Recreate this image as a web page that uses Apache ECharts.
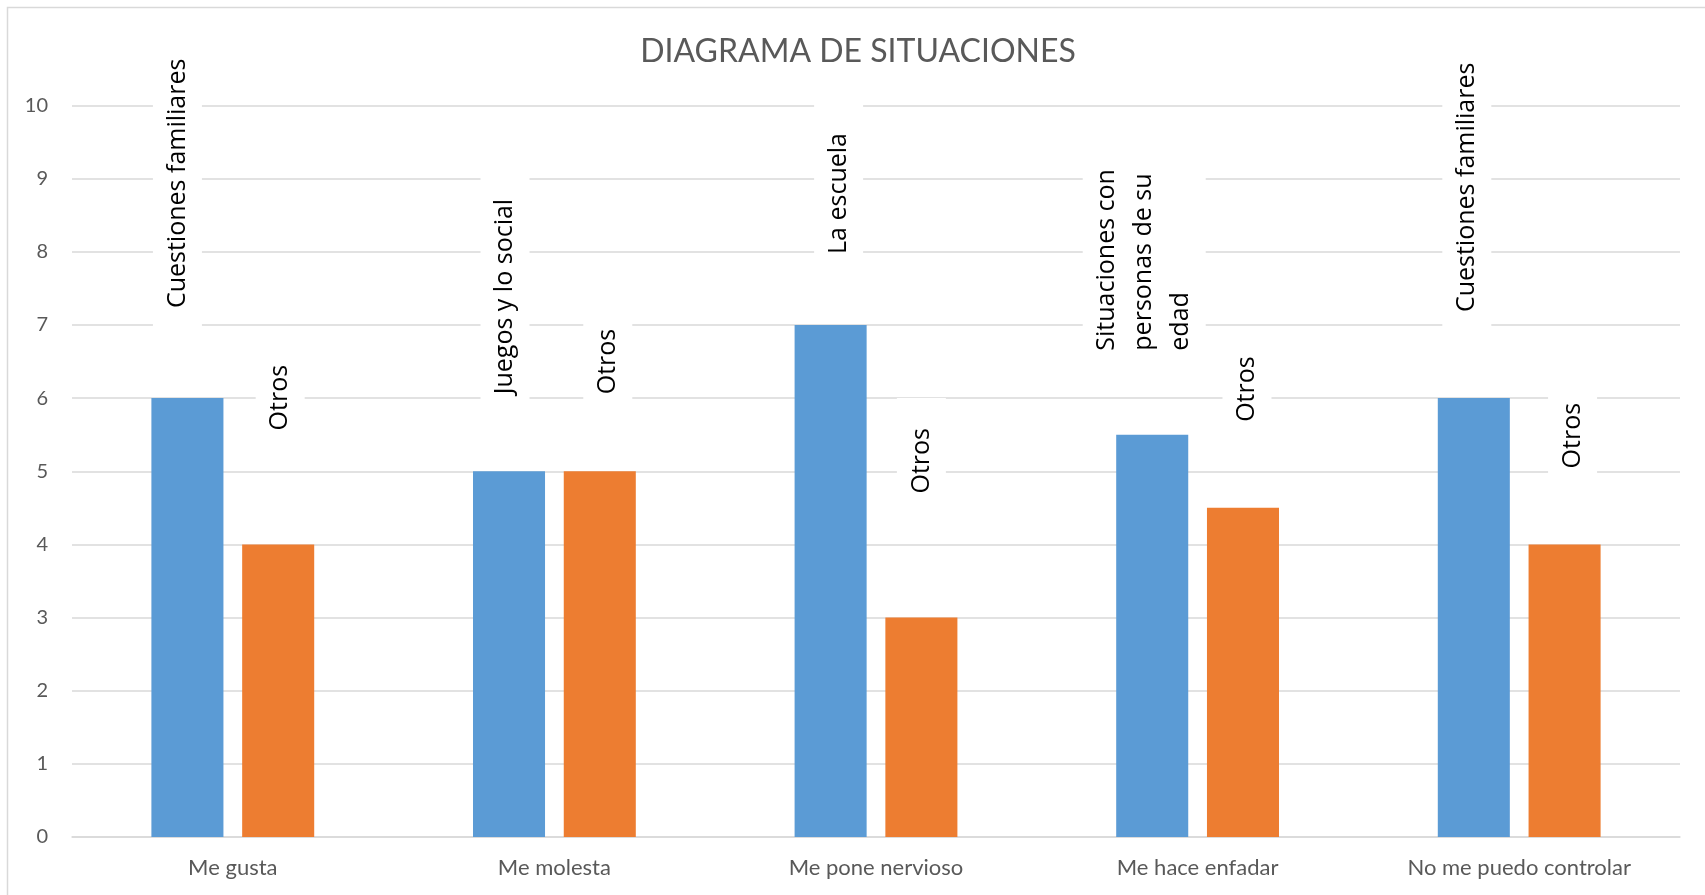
<!DOCTYPE html>
<html lang="es">
<head>
    <meta charset="UTF-8">
    <title>Diagrama de situaciones</title>
    <script src="https://cdn.jsdelivr.net/npm/echarts@6/dist/echarts.min.js"></script>
    <style>
        html, body { margin: 0; padding: 0; background: #fff; }
        #chart { width: 1705px; height: 895px; }
    </style>
</head>
<body>
<div id="chart"></div>
<script>
    // datos del diagrama
    var categorias = ['Me gusta', 'Me molesta', 'Me pone nervioso', 'Me hace enfadar', 'No me puedo controlar'];
    var valoresPrincipal = [6, 5, 7, 5.5, 6];
    var valoresOtros = [4, 5, 3, 4.5, 4];
    var etiquetasPrincipal = ['Cuestiones familiares', 'Juegos y lo social', 'La escuela', 'Situaciones con\npersonas de su\nedad', 'Cuestiones familiares'];
    var etiquetasOtros = ['Otros', 'Otros', 'Otros', 'Otros', 'Otros'];
    var ticksY = [0, 1, 2, 3, 4, 5, 6, 7, 8, 9, 10];

    // donde quedaron las etiquetas en el original (px): separacion sobre la barra y corrimiento lateral
    var separacionPrincipal = [60, 47, 41, 54, 56];
    var separacionOtros = [84, 47, 94, 56, 46];
    var corrimientoPrincipal = [-10, -4, 8, -8, -7];
    var corrimientoOtros = [2, 8, 0, 4, 8];

    function etiqueta(texto, separacion, corrimiento) {
        return {
            show: true,
            position: 'top',
            distance: separacion,
            offset: [0, corrimiento],   // rotada 90: el eje y local queda horizontal
            rotate: 90,
            align: 'left',
            verticalAlign: 'middle',
            formatter: texto,
            color: '#000',
            fontFamily: 'Open Sans',
            fontSize: 25,
            lineHeight: 37,
            backgroundColor: '#fff',
            padding: [6, 30]
        };
    }

    function datosSerie(valores, textos, separaciones, corrimientos) {
        return valores.map(function (v, i) {
            return { value: v, label: etiqueta(textos[i], separaciones[i], corrimientos[i]) };
        });
    }

    var chart = echarts.init(document.getElementById('chart'));
    var option = {
        animation: false,
        backgroundColor: '#fff',
        title: {
            text: 'DIAGRAMA DE SITUACIONES',
            left: 858,
            textAlign: 'center',
            top: 36,
            padding: 0,
            textStyle: {
                color: '#595959',
                fontFamily: 'Lato',
                fontSize: 32,
                fontWeight: 'normal'
            }
        },
        graphic: [{
            type: 'rect',
            shape: { x: 7.5, y: 7.5, width: 1740, height: 920 },
            style: { fill: 'none', stroke: '#d9d9d9', lineWidth: 1.5 },
            silent: true,
            z: -1
        }],
        grid: { left: 72, right: 25, top: 105.5, bottom: 58 },
        xAxis: {
            type: 'category',
            data: categorias,
            axisTick: { show: false },
            axisLine: { lineStyle: { color: '#d9d9d9', width: 1.5 } },
            axisLabel: {
                color: '#595959',
                fontFamily: 'Lato',
                fontSize: 22,
                margin: 20
            }
        },
        yAxis: {
            type: 'value',
            min: ticksY[0],
            max: ticksY[ticksY.length - 1],
            interval: 1,
            axisLine: { show: false },
            axisTick: { show: false },
            splitLine: { lineStyle: { color: '#d9d9d9', width: 1.5 } },
            axisLabel: {
                color: '#595959',
                fontFamily: 'Lato',
                fontSize: 20,
                margin: 24
            }
        },
        series: [
            {
                name: 'Situación',
                type: 'bar',
                barWidth: '22.4%',
                barGap: '26%',
                itemStyle: { color: '#5b9bd5' },
                data: datosSerie(valoresPrincipal, etiquetasPrincipal, separacionPrincipal, corrimientoPrincipal)
            },
            {
                name: 'Otros',
                type: 'bar',
                barWidth: '22.4%',
                itemStyle: { color: '#ed7d31' },
                data: datosSerie(valoresOtros, etiquetasOtros, separacionOtros, corrimientoOtros)
            }
        ]
    };
    chart.setOption(option);
</script>
</body>
</html>
